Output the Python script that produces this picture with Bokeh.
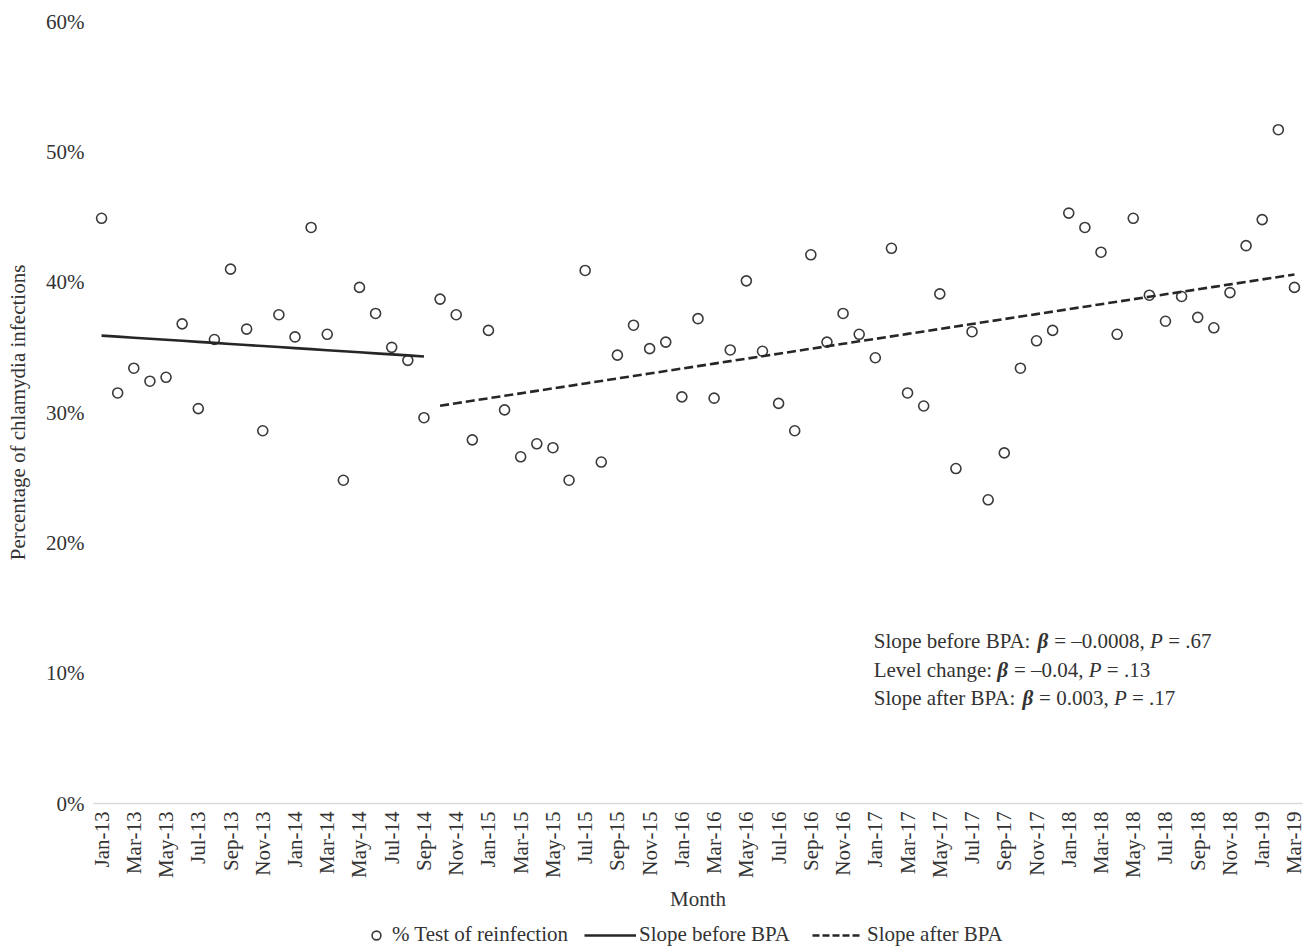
import math
import pandas as pd
from bokeh.plotting import figure
from bokeh.layouts import column
from bokeh.models import (FixedTicker, NumeralTickFormatter, Legend, LegendItem,
                          Label, ColumnDataSource)
from bokeh.embed import file_html
from bokeh.resources import INLINE

# Monthly share of chlamydia infections followed by a test of reinfection
months = list(pd.date_range("2013-01-01", periods=75, freq="MS").strftime("%b-%y"))
reinfection_pct = [
    44.9, 31.5, 33.4, 32.4, 32.7, 36.8, 30.3, 35.6, 41.0, 36.4, 28.6, 37.5,   # 2013
    35.8, 44.2, 36.0, 24.8, 39.6, 37.6, 35.0, 34.0, 29.6, 38.7, 37.5, 27.9,   # 2014
    36.3, 30.2, 26.6, 27.6, 27.3, 24.8, 40.9, 26.2, 34.4, 36.7, 34.9, 35.4,   # 2015
    31.2, 37.2, 31.1, 34.8, 40.1, 34.7, 30.7, 28.6, 42.1, 35.4, 37.6, 36.0,   # 2016
    34.2, 42.6, 31.5, 30.5, 39.1, 25.7, 36.2, 23.3, 26.9, 33.4, 35.5, 36.3,   # 2017
    45.3, 44.2, 42.3, 36.0, 44.9, 39.0, 37.0, 38.9, 37.3, 36.5, 39.2, 42.8,   # 2018
    44.8, 51.7, 39.6,                                                         # 2019
]
tick_months = months[::2]

# Segmented regression: BPA introduced from Oct-14 (month index 21)
bpa_start = 21
intercept = 0.359
slope_before = -0.0008
level_change = -0.037
slope_change = 0.0027

y_ticks = [0.0, 0.1, 0.2, 0.3, 0.4, 0.5, 0.6]

FONT = "Liberation Serif"
FS = 21
TEXT_COLOR = "#333333"
LINE_COLOR = "#262626"
MARKER_COLOR = "#3a3a3a"

idx = list(range(len(months)))
vals = [v / 100 for v in reinfection_pct]

pre_x = [t for t in idx if t <= bpa_start - 1]
pre_y = [intercept + slope_before * t for t in pre_x]
post_x = [t for t in idx if t >= bpa_start]
post_y = [intercept + slope_before * t + level_change + slope_change * (t - bpa_start)
          for t in post_x]

p = figure(frame_width=1209, frame_height=782, output_backend="svg",
           toolbar_location=None,
           x_range=(-0.5, len(months) - 0.5), y_range=(0, 0.6),
           min_border_left=93, min_border_right=8, min_border_top=21,
           min_border_bottom=114)
p.outline_line_color = None
p.xgrid.grid_line_color = None
p.ygrid.grid_line_color = None
p.background_fill_color = "white"
p.border_fill_color = "white"

src = ColumnDataSource(dict(x=idx, y=vals, m=months))
p.scatter("x", "y", source=src, size=10, marker="circle",
          fill_color=None, line_color=MARKER_COLOR, line_width=1.6)
p.line(pre_x, pre_y, line_color=LINE_COLOR, line_width=2.6)
p.line(post_x, post_y, line_color=LINE_COLOR, line_width=2.6, line_dash="9 4")

# x axis: every second month, vertical labels
xa = p.xaxis[0]
xa.ticker = FixedTicker(ticks=idx[::2])
xa.major_label_overrides = {t: m for t, m in zip(idx[::2], tick_months)}
xa.major_label_orientation = math.pi / 2
xa.major_label_standoff = 2
xa.major_tick_line_color = None
xa.minor_tick_line_color = None
xa.axis_line_color = "#d9d9d9"
xa.axis_line_width = 1.5
xa.axis_label = "Month"
xa.axis_label_standoff = 6
xa.axis_label_text_font_style = "normal"

ya = p.yaxis[0]
ya.ticker = FixedTicker(ticks=y_ticks)
ya.formatter = NumeralTickFormatter(format="0%")
ya.major_label_standoff = 3
ya.major_tick_line_color = None
ya.minor_tick_line_color = None
ya.axis_line_color = None
ya.axis_label = "Percentage of chlamydia infections"
ya.axis_label_standoff = 13
ya.axis_label_text_font_style = "normal"

for ax in (xa, ya):
    ax.major_label_text_font = FONT
    ax.major_label_text_font_size = f"{FS}px"
    ax.major_label_text_color = TEXT_COLOR
    ax.axis_label_text_font = FONT
    ax.axis_label_text_font_size = f"{FS}px"
    ax.axis_label_text_color = TEXT_COLOR

# Regression summary, set in pieces so beta and P can take their own style
ADV = {' ': 250, 'S': 556, 'l': 278, 'o': 500, 'p': 500, 'e': 444, 'b': 500,
       'f': 333, 'r': 333, 'B': 667, 'P': 556, 'A': 722, ':': 278, '=': 564,
       '\u2013': 500, '.': 250, ',': 250, 'L': 611, 'v': 500, 'c': 444,
       'h': 500, 'a': 444, 'n': 500, 'g': 500, 't': 278}
for d in "0123456789":
    ADV[d] = 500
BETA_W, P_ITAL_W = 540, 611


def width(s):
    return sum(ADV.get(ch, 500) for ch in s) * FS / 1000


stats = [
    ("Slope before BPA:", "\u20130.0008,", ".67"),
    ("Level change:", "\u20130.04,", ".13"),
    ("Slope after BPA:", "0.003,", ".17"),
]
stat_x = 47.9
stat_y = [0.125, 0.1028, 0.0812]
for (head, beta_val, p_val), yy in zip(stats, stat_y):
    pieces = [
        (head, "normal", width(head + " ")),
        ("\u03b2", "bold italic", BETA_W * FS / 1000 + width(" ")),
        ("= " + beta_val, "normal", width("= " + beta_val + " ")),
        ("P", "italic", P_ITAL_W * FS / 1000 + width(" ")),
        ("= " + p_val, "normal", 0),
    ]
    off = 0.0
    for txt, style, adv in pieces:
        p.add_layout(Label(x=stat_x, y=yy, x_offset=off, text=txt,
                           text_font=FONT, text_font_size=f"{FS}px",
                           text_font_style=style, text_color=TEXT_COLOR,
                           text_baseline="middle", text_align="left"))
        off += adv

# Legend strip under the chart; each entry has its own glyph width.
# The key renderers hold one point outside the strip's range, so only
# their legend glyphs show.
leg = figure(frame_width=1209, height=30, output_backend="svg",
             toolbar_location=None, x_range=(0, 1), y_range=(0, 1),
             min_border_left=93, min_border_right=8, min_border_top=0,
             min_border_bottom=0)
leg.axis.visible = False
leg.grid.visible = False
leg.outline_line_color = None
leg.border_fill_color = "white"
key_x, key_y = [-5], [-5]
k_pts = leg.scatter(key_x, key_y, size=10, marker="circle", fill_color=None,
                    line_color=MARKER_COLOR, line_width=1.6)
k_pre = leg.line(key_x, key_y, line_color=LINE_COLOR, line_width=2.6)
k_post = leg.line(key_x, key_y, line_color=LINE_COLOR, line_width=2.6,
                  line_dash="7 3")

legend_specs = [
    ("% Test of reinfection", k_pts, 22, 5, 272),
    ("Slope before BPA", k_pre, 52, 3, 491),
    ("Slope after BPA", k_post, 50, 5, 719),
]
for label, rend, gw, standoff, left in legend_specs:
    lg = Legend(items=[LegendItem(label=label, renderers=[rend])],
                location=(left, 0), orientation="horizontal")
    lg.label_text_font = FONT
    lg.label_text_font_size = f"{FS}px"
    lg.label_text_color = TEXT_COLOR
    lg.glyph_width = gw
    lg.glyph_height = 24
    lg.label_height = 24
    lg.label_standoff = standoff
    lg.padding = 0
    lg.margin = 0
    lg.border_line_color = None
    lg.background_fill_alpha = 0
    leg.add_layout(lg)

open("out.html", "w").write(file_html(column(p, leg, spacing=0), INLINE))
